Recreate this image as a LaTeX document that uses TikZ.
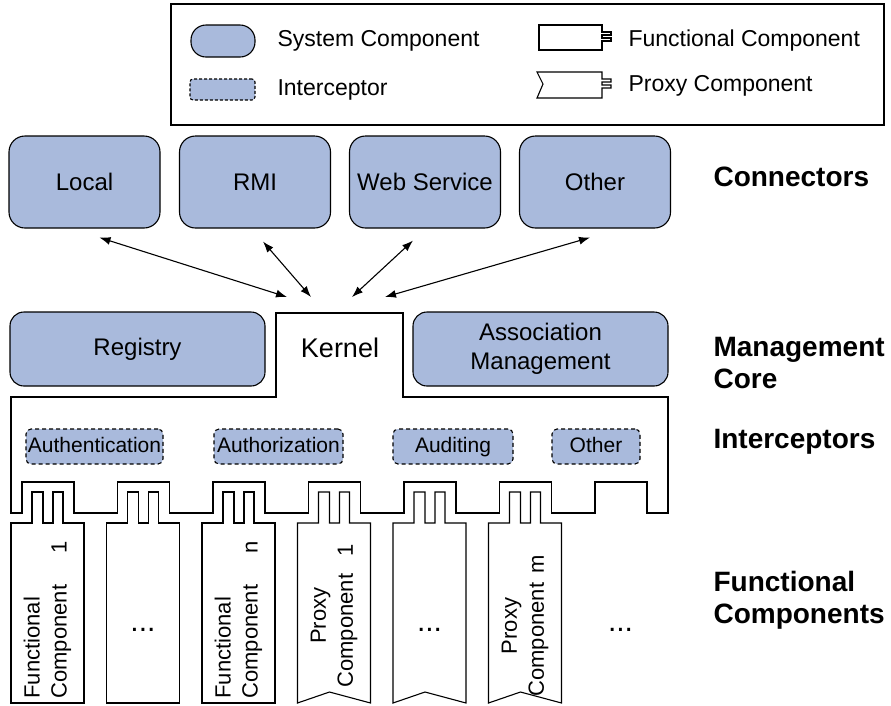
\documentclass[tikz,border=0pt]{standalone}
\usepackage{fontspec}
\setmainfont{Liberation Sans}
\usetikzlibrary{arrows.meta}
\definecolor{bleusys}{RGB}{169,186,220}

\begin{document}
\begin{tikzpicture}[x=1pt,y=-1pt,line width=1.1pt,>={Latex[length=11pt,width=8pt]},
  sys/.style={draw,fill=bleusys,rounded corners=16pt,align=center,font=\fontsize{24}{29}\selectfont},
  inter/.style={draw,fill=bleusys,dash pattern=on 4pt off 3pt,rounded corners=5pt,minimum height=35,inner sep=1pt,text height=15pt,text depth=4pt,font=\fontsize{21}{25}\selectfont},
  titre/.style={anchor=west,align=left,inner sep=0pt,font=\fontsize{28}{32}\selectfont\bfseries},
  leg/.style={anchor=west,inner sep=0pt,font=\fontsize{23}{27}\selectfont},
  comp/.style={rotate=90,inner sep=0pt,font=\fontsize{22}{27}\selectfont},
  points/.style={font=\fontsize{30}{34}\selectfont}]
\useasboundingbox (0,0) rectangle (891,705);

% la legende
\draw (171,4) rectangle (884,125);
\node[draw,fill=bleusys,rounded corners=15pt,minimum width=64,minimum height=32] (legsys) at (223,41) {};
\node[leg] (legsystxt) at (277,41) {System Component};
\node[draw,fill=bleusys,dash pattern=on 3pt off 2pt,rounded corners=3pt,minimum width=65,minimum height=21] (leginter) at (222.5,89.5) {};
\node[leg] (leginttxt) at (277,90) {Interceptor};
\draw (539,25) -- (602,25) -- (602,32) -- ++(9,0) -- ++(0,3) -- ++(-9,0) -- ++(0,3) -- ++(9,0) -- ++(0,3) -- ++(-9,0) -- (602,50) -- (539,50) -- cycle;
\node[leg] (legfcttxt) at (628,41) {Functional Component};
\draw (537,72) -- (602,72) -- (602,79) -- ++(9,0) -- ++(0,3) -- ++(-9,0) -- ++(0,3) -- ++(9,0) -- ++(0,3) -- ++(-9,0) -- (602,98) -- (537,98) -- (543,84) -- cycle;
\node[leg] (legprxtxt) at (628,86) {Proxy Component};

% les connecteurs
\node[sys,minimum width=151,minimum height=92] (local) at (84.5,182) {Local};
\node[sys,minimum width=151,minimum height=92] (rmi) at (255,182) {RMI};
\node[sys,minimum width=151,minimum height=92,inner sep=1pt] (web) at (425,182) {Web Service};
\node[sys,minimum width=151,minimum height=92] (autre) at (595,182) {Other};

% le noyau
\draw (11,397) -- (11,513) foreach \i in {0,...,6} { -- ({22+95.5*\i},513) -- ++(0,-31) -- ++(52,0) -- ++(0,31) }
  -- (668,513) -- (668,397) -- (403,397) -- (403,313) -- (276,313) -- (276,397) -- cycle;
\node[font=\fontsize{27}{32}\selectfont] (kernel) at (340,348) {Kernel};
\node[sys,rounded corners=14pt,minimum width=255,minimum height=74] (registry) at (137.5,349) {Registry};
\node[sys,rounded corners=14pt,minimum width=255,minimum height=74] (assoc) at (540.5,349) {Association\\Management};

\coordinate (k1) at (287,297);
\coordinate (k2) at (311,297);
\coordinate (k3) at (352,297);
\coordinate (k4) at (385,297);
\draw[<->] ([shift={(15,9)}]local.south) -- (k1);
\draw[<->] ([shift={(8,13)}]rmi.south) -- (k2);
\draw[<->] ([shift={(-12,12)}]web.south) -- (k3);
\draw[<->] ([shift={(-5,9)}]autre.south) -- (k4);

% les intercepteurs
\node[inter,minimum width=137] (authent) at (94.5,446.5) {Authentication};
\node[inter,minimum width=129] (authz) at (278.5,446.5) {Authorization};
\node[inter,minimum width=120] (audit) at (453,446.5) {Auditing};
\node[inter,minimum width=88] (autreint) at (596,446.5) {Other};

% les composants
\foreach \i in {0,1,2} {
  \draw ({11+95.5*\i},703) -- ++(0,-180) -- ++(21,0) -- ++(0,-31) -- ++(11,0) -- ++(0,31) -- ++(10,0) -- ++(0,-31) -- ++(10,0) -- ++(0,31) -- ++(21,0) -- ++(0,180) -- cycle;
}
\foreach \i in {3,4,5} {
  \draw ({11+95.5*\i},703) -- ++(0,-180) -- ++(21,0) -- ++(0,-31) -- ++(11,0) -- ++(0,31) -- ++(10,0) -- ++(0,-31) -- ++(10,0) -- ++(0,31) -- ++(21,0) -- ++(0,180) -- ++(-41,-11) -- cycle;
}
\node[comp,anchor=west,align=left] (fct1) at (47.5,699) {Functional\\Component\hspace{1.4em}1};
\node[points] (pts1) at (143,630) {...};
\node[comp,anchor=west,align=left] (fctn) at (238.5,699) {Functional\\Component\hspace{1.4em}n};
\node[comp,anchor=west,align=center] (prx1) at (334,688) {Proxy\\Component\hspace{0.8em}1};
\node[points] (pts2) at (429.5,630) {...};
\node[comp,anchor=west,align=center] (prxm) at (525,697) {Proxy\\Component\hspace{0.4em}m};
\node[points] (pts3) at (620.5,630) {...};

% les titres
\node[titre] (tconn) at (713,177) {Connectors};
\node[titre] (tcore) at (713,363) {Management\\Core};
\node[titre] (tinter) at (713,442) {Interceptors};
\node[titre] (tfct) at (713,600) {Functional\\Components};
\end{tikzpicture}
\end{document}
